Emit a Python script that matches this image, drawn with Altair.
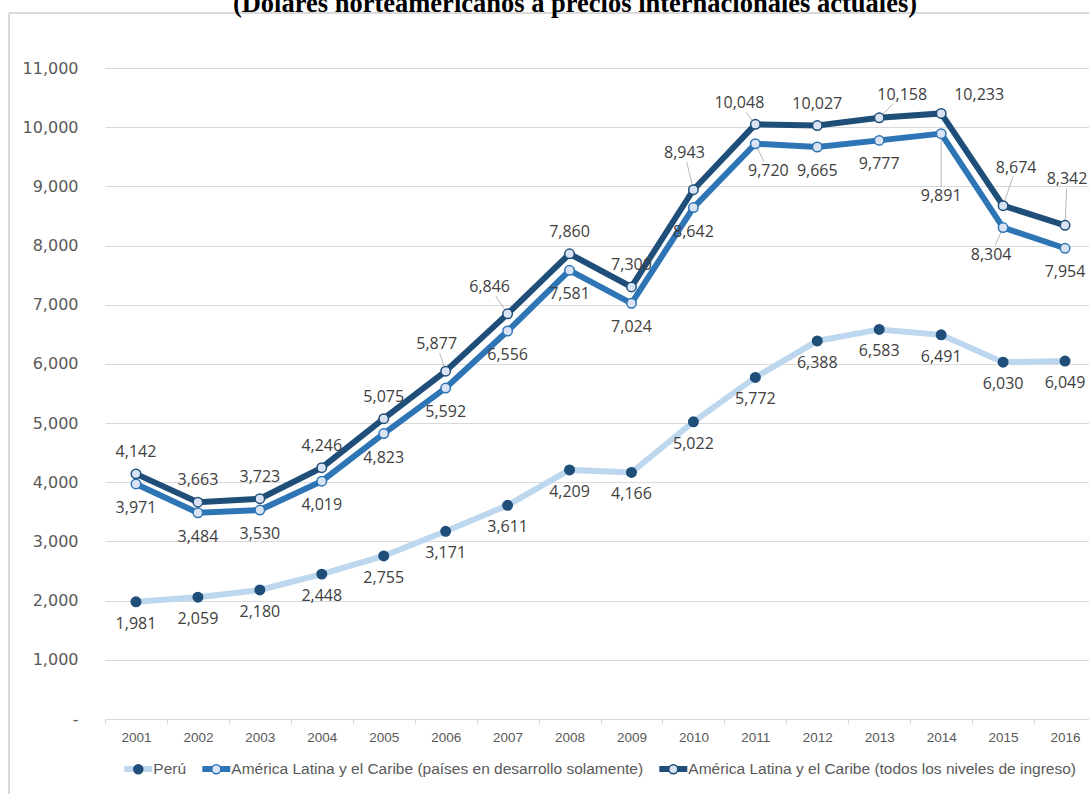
import json
import altair as alt
import pandas as pd

# Años y series (dólares a precios internacionales actuales)
anios = ["2001", "2002", "2003", "2004", "2005", "2006", "2007", "2008",
         "2009", "2010", "2011", "2012", "2013", "2014", "2015", "2016"]
peru = [1981, 2059, 2180, 2448, 2755, 3171, 3611, 4209,
        4166, 5022, 5772, 6388, 6583, 6491, 6030, 6049]
alc_desarrollo = [3971, 3484, 3530, 4019, 4823, 5592, 6556, 7581,
                  7024, 8642, 9720, 9665, 9777, 9891, 8304, 7954]
alc_todos = [4142, 3663, 3723, 4246, 5075, 5877, 6846, 7860,
             7300, 8943, 10048, 10027, 10158, 10233, 8674, 8342]

series = [
    "Perú",
    "América Latina y el Caribe (países en desarrollo solamente)",
    "América Latina y el Caribe (todos los niveles de ingreso)",
]
valores = [peru, alc_desarrollo, alc_todos]
titulo = "(Dólares norteamericanos a precios internacionales actuales)"

# Estilo por serie
color_linea = ["#bdd7ee", "#2e75b6", "#1f4e79"]
relleno_punto = ["#1f4e79", "#dae3f3", "#dae3f3"]
borde_punto = ["#1f4e79", "#2e75b6", "#1f4e79"]
dy_etiqueta = [22, 24, -22]

# Etiquetas desplazadas a mano: (serie, año) -> (dx, dy, línea guía)
ajustes = {
    (2, "2006"): (-9, -27, True),
    (2, "2007"): (-18, -27, True),
    (2, "2010"): (-9, -37, True),
    (2, "2011"): (-16, -21, True),
    (2, "2013"): (23, -23, True),
    (2, "2014"): (38, -18, False),
    (2, "2015"): (13, -38, True),
    (2, "2016"): (2, -46, True),
    (1, "2011"): (13, 27, True),
    (1, "2014"): (0, 62, True),
    (1, "2015"): (-12, 27, True),
}

filas = []
for s, vals in zip(series, valores):
    for a, v in zip(anios, vals):
        filas.append({"Año": a, "Serie": s, "Serie2": s, "Valor": v})
df = pd.DataFrame(filas)

FUENTE = "Open Sans"
GRIS = "#595959"

x_enc = alt.X(
    "Año:O",
    bandPosition=0.5,
    scale=alt.Scale(type="band", paddingInner=0, paddingOuter=0),
    axis=alt.Axis(
        title=None, labelAngle=0, grid=False,
        domainColor="#d9d9d9", tickColor="#d9d9d9", tickSize=5,
        tickBand="extent", labelFont="Liberation Sans", labelFontSize=13.5,
        labelColor=GRIS, labelPadding=6,
    ),
)
y_enc = alt.Y(
    "Valor:Q",
    scale=alt.Scale(domain=[0, 11000], nice=False),
    axis=alt.Axis(
        title=None, values=list(range(0, 11001, 1000)),
        labelExpr="datum.value == 0 ? '-\u00a0\u00a0\u00a0' : format(datum.value, ',')",
        domain=False, ticks=False, gridColor="#d9d9d9", gridWidth=1,
        labelFont="DejaVu Sans", labelFontSize=16, labelColor=GRIS, labelPadding=27,
    ),
)

base = alt.Chart(df)

# Las dos leyendas (trazo y círculo) comparten la misma rejilla
leyenda_comun = dict(
    title=None, orient="none", legendX=4.3, legendY=684,
    direction="horizontal", columns=3, labelFont="Liberation Sans",
    labelFontSize=15.5, symbolOffset=12,
    labelOffset=alt.ExprRef(expr="-2"),
    columnPadding=1,
    labelLimit=0,
)

lineas = base.mark_line(strokeWidth=6).encode(
    x=x_enc, y=y_enc,
    color=alt.Color(
        "Serie:N", sort=series,
        scale=alt.Scale(domain=series, range=color_linea),
        legend=alt.Legend(symbolType="stroke", symbolSize=784,
                          symbolStrokeWidth=6, labelColor=GRIS, zindex=1,
                          **leyenda_comun),
    ),
)

circulo = "M0.277,0A0.277,0.277,0,1,1,-0.277,0A0.277,0.277,0,1,1,0.277,0Z"
leyenda_punto = alt.Legend(symbolType=circulo, symbolSize=1056.25,
                           symbolStrokeWidth=1.5, labelColor="transparent",
                           labelOpacity=0, zindex=2, **leyenda_comun)
puntos = base.mark_point(filled=True, size=90, strokeWidth=1.5, opacity=1).encode(
    x=x_enc, y=y_enc,
    fill=alt.Fill("Serie2:N", sort=series,
                  scale=alt.Scale(domain=series, range=relleno_punto),
                  legend=leyenda_punto),
    stroke=alt.Stroke("Serie2:N", sort=series,
                      scale=alt.Scale(domain=series, range=borde_punto),
                      legend=leyenda_punto),
)


def texto(filtro, dx, dy):
    return base.transform_filter(filtro).mark_text(
        dx=dx, dy=dy, font=FUENTE, fontSize=16, color="#404040"
    ).encode(x=x_enc, y=y_enc, text=alt.Text("Valor:Q", format=","))


textos = []
guias = []
for i, s in enumerate(series):
    especiales = [a for (j, a) in ajustes if j == i]
    filtro = f"datum.Serie == {json.dumps(s)}"
    if especiales:
        filtro += f" && indexof({json.dumps(especiales)}, datum['Año']) < 0"
    textos.append(texto(filtro, 0, dy_etiqueta[i]))
    for a in especiales:
        dx, dy, guia = ajustes[(i, a)]
        sel = f"datum.Serie == {json.dumps(s)} && datum['Año'] == '{a}'"
        textos.append(texto(sel, dx, dy))
        if guia:
            f = (abs(dy) - 9) / abs(dy)
            guias.append(
                base.transform_filter(sel).mark_rule(
                    color="#a6a6a6", strokeWidth=0.8,
                    x2Offset=dx * f, y2Offset=dy * f,
                ).encode(
                    x=x_enc, y=y_enc,
                    x2=alt.X2("Año", bandPosition=0.5), y2=alt.Y2("Valor"),
                )
            )

# Marco del área del gráfico
marco_izq = alt.Chart(df).mark_rule(color="#d9d9d9", strokeWidth=1.2).encode(
    x=alt.value(-96), y=alt.value(-55), y2=alt.value(730))
marco_sup = alt.Chart(df).mark_rule(color="#d9d9d9", strokeWidth=1.2).encode(
    x=alt.value(-96), x2=alt.value(1000), y=alt.value(-55))

encabezado = alt.Chart(pd.DataFrame({"t": [titulo]})).mark_text(
    font="Liberation Serif", fontSize=26.5, fontWeight="bold", color="black",
    align="center", baseline="alphabetic",
).encode(text="t:N", x=alt.value(470), y=alt.value(-56.5))

chart = alt.layer(
    marco_izq, marco_sup, lineas, *guias, puntos, *textos, encabezado
).resolve_scale(
    color="independent", fill="independent", stroke="independent"
).properties(
    width=991, height=651,
    autosize=alt.AutoSizeParams(type="none"),
    padding={"left": 105, "top": 68, "right": -7, "bottom": 75},
).configure_view(stroke="transparent").configure_legend(padding=0)

chart.save("out.html", embed_options={"renderer": "svg", "actions": False})
